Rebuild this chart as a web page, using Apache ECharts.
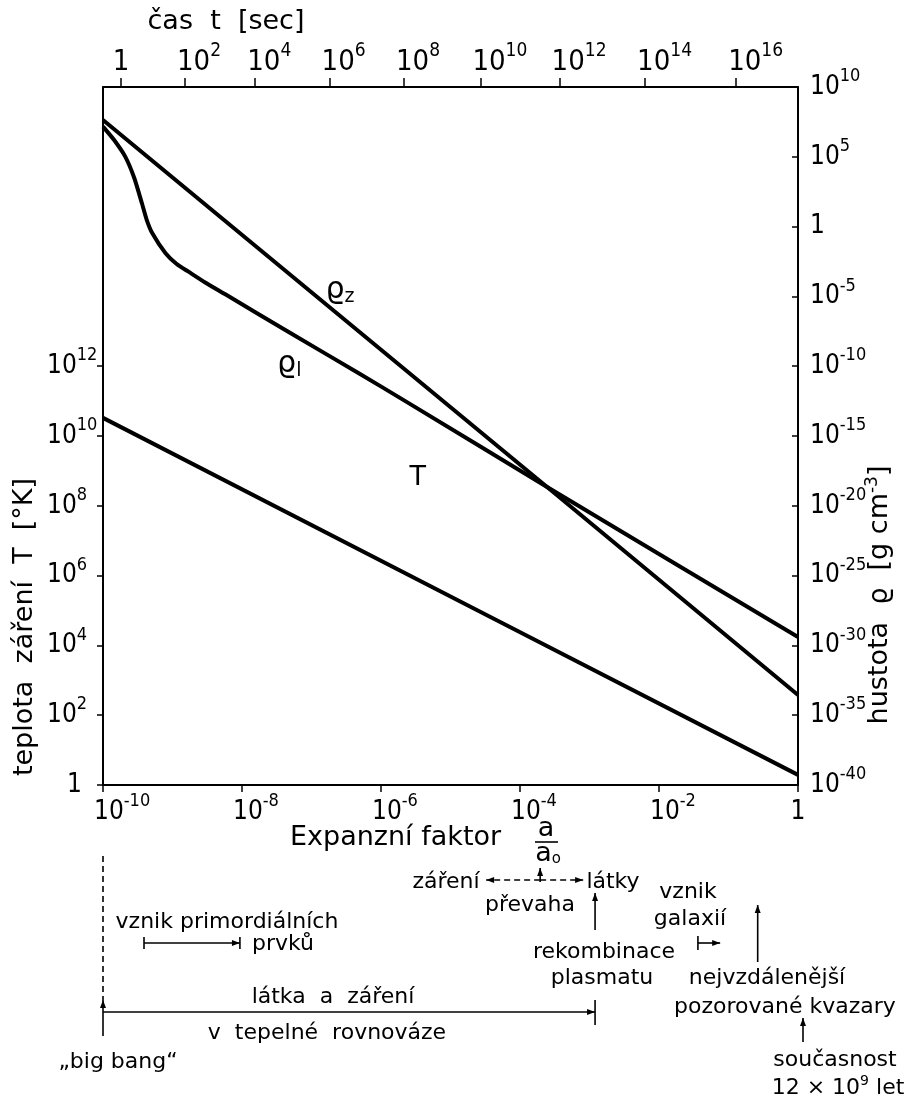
<!DOCTYPE html>
<html>
<head>
<meta charset="utf-8">
<script src="https://cdn.jsdelivr.net/npm/echarts@6/dist/echarts.min.js"></script>
<style>
  html, body { margin: 0; padding: 0; background: #fff; }
  #main { width: 913px; height: 1097px; }
</style>
</head>
<body>
<div id="main"></div>
<script>
// all values are log10 exponents
// x = log10(a/a0), T in K, rho in g/cm^3
var tempA = [-10, -4.58, 0];
var tempLog = [10.52, 4.97, 0.29];

var rhoZA = [-10, -3.61, 0];
var rhoZLog = [7.64, -18.65, -33.55];

var rhoLA = [-10, -9.84, -9.68, -9.55, -9.44, -9.37, -9.29, -9.10, -8.94, -8.77, -8.53, -8.24, -7.28, -6.32, -5.65, -3.61, 0];
var rhoLLog = [7.16, 6.20, 5.01, 3.48, 1.67, 0.47, -0.48, -1.91, -2.68, -3.23, -4.0, -4.85, -7.7, -10.5, -12.5, -18.65, -29.40];

// top axis: time t [sec], where each tick lands on the a-scale
var timeTickA = [-9.74, -8.82, -7.81, -6.74, -5.67, -4.57, -3.43, -2.20, -0.89];
var timeTickExp = [0, 2, 4, 6, 8, 10, 12, 14, 16];

var bottomExp = [-10, -8, -6, -4, -2, 0];
var leftTickExp = [0, 2, 4, 6, 8, 10, 12];

// events on the a-scale (bottom notes)
var bigBangA = -10;
var primordialA = [-9.41, -8.03];
var equalityA = -3.71;
var recombA = -2.92;
var galaxyA = [-1.44, -1.12];
var quasarA = -0.58;
var presentA = 0;

var gridLeft = 103, gridRight = 115, gridTop = 87, gridBottom = 312;
var pxPerDecade = (913 - gridLeft - gridRight) / 10;

var numFont = '"Liberation Sans Narrow", "DejaVu Sans Condensed", "DejaVu Sans", sans-serif';
var textFont = '"DejaVu Sans", sans-serif';

var measureCtx = document.createElement('canvas').getContext('2d');
function textW(str, size) {
    measureCtx.font = size + 'px ' + numFont;
    return measureCtx.measureText(str).width;
}

function pairs(xs, ys) {
    return xs.map(function (x, i) { return [x, ys[i]]; });
}

function powLabel(e) {
    e = Math.round(e);
    if (e === 0) return '{one|1}';
    return '{b|10}{s|' + e + '}';
}

// x labels sit so that "10" starts k px left of its tick
function labelSpots(ticks, exps, size, supSize, k) {
    return ticks.map(function (t, i) {
        if (exps[i] === 0) return t;
        var w = textW('10', size) + textW(String(exps[i]), supSize);
        return t + (w / 2 - k) / pxPerDecade;
    });
}

function nearestLabel(spots, exps) {
    return function (v) {
        var best = 0;
        for (var i = 1; i < spots.length; i++) {
            if (Math.abs(spots[i] - v) < Math.abs(spots[best] - v)) best = i;
        }
        return powLabel(exps[best]);
    };
}

function rich(size, supSize, onePad) {
    return {
        b: { fontFamily: numFont, fontSize: size, lineHeight: 42, color: '#000' },
        s: { fontFamily: numFont, fontSize: supSize, color: '#000', padding: [0, 0, 21, 0] },
        one: { fontFamily: numFont, fontSize: size, lineHeight: 42, color: '#000', padding: [0, 0, 0, onePad] }
    };
}

var bottomSpots = labelSpots(bottomExp, bottomExp, 26, 18, 9);
var topSpots = labelSpots(timeTickA, timeTickExp, 29, 19, 8);

var lineStyleAxis = { color: '#000', width: 2 };

var chart = echarts.init(document.getElementById('main'));

var option = {
    animation: false,
    backgroundColor: '#fff',
    grid: { left: gridLeft, right: gridRight, top: gridTop, bottom: gridBottom, containLabel: false, outerBoundsMode: 'none' },
    xAxis: [{
        type: 'value',
        position: 'bottom',
        min: -10,
        max: 0,
        interval: 2,
        axisLine: { onZero: false, lineStyle: lineStyleAxis },
        axisTick: { length: 7, customValues: bottomExp, lineStyle: { color: '#000', width: 1.5 } },
        splitLine: { show: false },
        axisLabel: {
            margin: 6, showMinLabel: true, showMaxLabel: true, hideOverlap: false,
            customValues: bottomSpots,
            formatter: nearestLabel(bottomSpots, bottomExp),
            rich: rich(26, 18, 0)
        }
    }, {
        type: 'value',
        position: 'top',
        min: -10,
        max: 0,
        axisLine: { onZero: false, lineStyle: lineStyleAxis },
        axisTick: { length: 9, customValues: timeTickA, lineStyle: { color: '#000', width: 1.5 } },
        splitLine: { show: false },
        axisLabel: {
            margin: 4, showMinLabel: true, showMaxLabel: true, hideOverlap: false,
            customValues: topSpots,
            formatter: nearestLabel(topSpots, timeTickExp),
            rich: rich(29, 19, 0)
        }
    }],
    yAxis: [{
        type: 'value',
        position: 'left',
        min: 0,
        max: 20,
        interval: 2,
        axisLine: { onZero: false, lineStyle: lineStyleAxis },
        axisTick: { length: 6, customValues: leftTickExp, lineStyle: { color: '#000', width: 1.5 } },
        splitLine: { show: false },
        axisLabel: {
            align: 'left', margin: 56, showMinLabel: true, showMaxLabel: true,
            customValues: leftTickExp, formatter: powLabel, rich: rich(26, 18, 20)
        }
    }, {
        type: 'value',
        position: 'right',
        min: -40,
        max: 10,
        interval: 5,
        axisLine: { onZero: false, lineStyle: lineStyleAxis },
        axisTick: { inside: true, length: 6, lineStyle: { color: '#000', width: 1.5 } },
        splitLine: { show: false },
        axisLabel: { margin: 12, showMinLabel: true, showMaxLabel: true, formatter: powLabel, rich: rich(26, 18, 0) }
    }],
    series: [{
        name: 'T',
        type: 'line',
        xAxisIndex: 0,
        yAxisIndex: 0,
        symbol: 'none',
        lineStyle: { color: '#000', width: 4 },
        data: pairs(tempA, tempLog)
    }, {
        name: 'rho_z',
        type: 'line',
        xAxisIndex: 0,
        yAxisIndex: 1,
        symbol: 'none',
        lineStyle: { color: '#000', width: 4 },
        data: pairs(rhoZA, rhoZLog)
    }, {
        name: 'rho_l',
        type: 'line',
        xAxisIndex: 0,
        yAxisIndex: 1,
        symbol: 'none',
        smooth: 0.2,
        lineStyle: { color: '#000', width: 4, join: 'round' },
        data: pairs(rhoLA, rhoLLog)
    }]
};

chart.setOption(option);

// ---------- notes drawn around the plot ----------
function xa(a) { return chart.convertToPixel({ xAxisIndex: 0 }, a); }

function txt(x, y, s, opt) {
    opt = opt || {};
    var al = opt.align || 'center';
    return {
        type: 'text', x: x, y: y, rotation: opt.rot || 0, silent: true,
        style: {
            text: s, fontFamily: opt.font || textFont, fontSize: opt.size || 22, fill: '#000',
            textAlign: al, textVerticalAlign: 'middle', align: al, verticalAlign: 'middle',
            rich: opt.rich
        }
    };
}

function seg(x1, y1, x2, y2, dash) {
    return {
        type: 'line', silent: true,
        shape: { x1: x1, y1: y1, x2: x2, y2: y2 },
        style: { stroke: '#000', lineWidth: 1.6, lineDash: dash ? [6, 4] : null }
    };
}

function head(x1, y1, x2, y2) {
    var dx = x2 - x1, dy = y2 - y1, len = Math.sqrt(dx * dx + dy * dy);
    var ux = dx / len, uy = dy / len, L = 8, W = 3;
    return {
        type: 'polygon', silent: true,
        shape: { points: [[x2, y2], [x2 - ux * L - uy * W, y2 - uy * L + ux * W], [x2 - ux * L + uy * W, y2 - uy * L - ux * W]] },
        style: { fill: '#000' }
    };
}

function arrow(x1, y1, x2, y2, dash) {
    return [seg(x1, y1, x2, y2, dash), head(x1, y1, x2, y2)];
}

var g = [];
var supRich = function (base, sup) {
    return {
        b: { fontFamily: textFont, fontSize: base, lineHeight: 30 },
        s: { fontFamily: textFont, fontSize: sup, padding: [0, 0, 14, 0] }
    };
};

// axis titles
g.push(txt(226, 22, 'čas  t  [sec]', { size: 27 }));
g.push(txt(25, 627, 'teplota  záření  T  [°K]', { size: 27, rot: Math.PI / 2 }));
g.push(txt(880, 595, '{b|hustota  ϱ  [g cm}{s|-3}{b|]}', { size: 27, rot: Math.PI / 2, rich: supRich(27, 17) }));
g.push(txt(290, 838, 'Expanzní faktor', { size: 27, align: 'left' }));
g.push(txt(546, 829, 'a', { size: 27 }));
g.push(seg(535, 842, 558, 842));
g.push(txt(548, 854, '{a|a}{o|o}', { rich: { a: { fontFamily: textFont, fontSize: 27 }, o: { fontFamily: textFont, fontSize: 15, padding: [10, 0, 0, 0] } } }));

// curve labels
var curveRich = {
    r: { fontFamily: textFont, fontSize: 30 },
    u: { fontFamily: textFont, fontSize: 19, padding: [14, 0, 0, 0] }
};
var pz = chart.convertToPixel({ seriesIndex: 1 }, [-6.59, -4.54]);
var pl = chart.convertToPixel({ seriesIndex: 2 }, [-7.32, -9.84]);
var pt = chart.convertToPixel({ seriesIndex: 0 }, [-5.47, 8.80]);
g.push(txt(pz[0], pz[1], '{r|ϱ}{u|z}', { rich: curveRich }));
g.push(txt(pl[0], pl[1], '{r|ϱ}{u|l}', { rich: curveRich }));
g.push(txt(pt[0], pt[1], 'T', { size: 27 }));

// big bang and thermal equilibrium
var xb = xa(bigBangA), xr = xa(recombA);
g.push(seg(xb, 856, xb, 1000, true));
g = g.concat(arrow(xb, 1036, xb, 1000));
g = g.concat(arrow(xb, 1012, xr, 1012));
g.push(seg(xr, 1000, xr, 1025));
g.push(txt(333, 997, 'látka  a  záření'));
g.push(txt(327, 1033, 'v  tepelné  rovnováze'));
g.push(txt(118, 1062, '„big bang“'));

// primordial nucleosynthesis
var xp0 = xa(primordialA[0]), xp1 = xa(primordialA[1]);
g.push(txt(227, 922, 'vznik primordiálních'));
g = g.concat(arrow(xp0, 943, xp1, 943));
g.push(seg(xp0, 937, xp0, 949));
g.push(seg(xp1, 937, xp1, 949));
g.push(txt(283, 944, 'prvků'));

// radiation / matter dominance
var xe = xa(equalityA);
g.push(txt(446, 882, 'záření'));
g.push(txt(613, 882, 'látky'));
g = g.concat(arrow(xe, 880, xe - 54, 880, true));
g = g.concat(arrow(xe, 880, xe + 43, 880, true));
g = g.concat(arrow(xe, 882, xe, 868));
g.push(txt(530, 905, 'převaha'));

// recombination
g = g.concat(arrow(xr, 930, xr, 893));
g.push(txt(604, 952, 'rekombinace'));
g.push(txt(602, 978, 'plasmatu'));

// galaxies
var xg0 = xa(galaxyA[0]), xg1 = xa(galaxyA[1]);
g.push(txt(688, 892, 'vznik'));
g.push(txt(690, 919, 'galaxií'));
g = g.concat(arrow(xg0, 943, xg1, 943));
g.push(seg(xg0, 936, xg0, 950));

// quasars
var xq = xa(quasarA);
g = g.concat(arrow(xq, 962, xq, 905));
g.push(txt(767, 978, 'nejvzdálenější'));
g.push(txt(785, 1007, 'pozorované kvazary'));

// present
var xn = xa(presentA) + 5;
g = g.concat(arrow(xn, 1042, xn, 1018));
g.push(txt(835, 1060, 'současnost'));
g.push(txt(838, 1088, '{b|12 × 10}{s|9}{b| let}', { rich: supRich(22, 14) }));

chart.setOption({ graphic: g });
</script>
</body>
</html>
